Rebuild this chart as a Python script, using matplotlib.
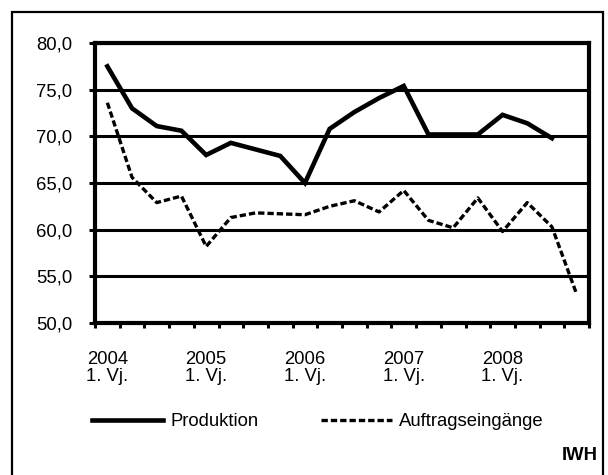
import matplotlib
matplotlib.use("Agg")
import matplotlib.pyplot as plt
from matplotlib.patches import Rectangle

plt.rcParams['font.family'] = ['Liberation Sans', 'DejaVu Sans']

# Quartale 2004 Q1 .. 2008 Q4
years = ['2004', '2005', '2006', '2007', '2008']
produktion = [77.5, 73.0, 71.1, 70.6, 68.0, 69.3, 68.6, 67.9, 65.0, 70.8,
              72.6, 74.1, 75.4, 70.2, 70.2, 70.2, 72.3, 71.4, 69.8]
auftrag = [73.6, 65.6, 62.9, 63.6, 58.2, 61.3, 61.8, 61.7, 61.6, 62.5,
           63.1, 61.9, 64.2, 61.0, 60.2, 63.4, 59.8, 62.9, 60.3, 53.1]
yticks = [50, 55, 60, 65, 70, 75, 80]

FS = 13.3
W, H = 608, 475
fig = plt.figure(figsize=(W / 100, H / 100), dpi=100)
ax = fig.add_axes([95 / W, 1 - 323 / H, (589 - 95) / W, (323 - 43) / H])

ax.plot(range(len(produktion)), produktion, color='black', lw=3.3,
        solid_joinstyle='miter', label='Produktion', zorder=3)
ax.plot(range(len(auftrag)), auftrag, color='black', lw=2.4,
        linestyle=(0, (1.9, 0.9)), label='Auftragseingänge', zorder=3)

ax.set_ylim(50, 80)
ax.set_xlim(-0.5, 19.5)
ax.set_yticks(yticks)
ax.set_yticklabels([f'{v:.1f}'.replace('.', ',') for v in yticks])
ax.yaxis.grid(True, color='black', lw=2.2)
ax.set_axisbelow(True)
ax.tick_params(axis='y', length=4, width=2.2, labelsize=FS, pad=12.5)

ax.set_xticks([0, 4, 8, 12, 16])
ax.set_xticklabels([y + '\n1. Vj.' for y in years], linespacing=1.05)
ax.set_xticks([k - 0.5 for k in range(21)], minor=True)
ax.tick_params(axis='x', which='major', length=0, labelsize=FS, pad=20)
ax.tick_params(axis='x', which='minor', length=3.5, width=2.2)

for s in ax.spines.values():
    s.set_linewidth(3)

ax.legend(loc='center left', bbox_to_anchor=(92 / W, 1 - 422 / H),
          bbox_transform=fig.transFigure, ncol=2, frameon=False,
          fontsize=FS, handlelength=3.85, handletextpad=0.38,
          columnspacing=3.4, borderpad=0, borderaxespad=0)

fig.text(598 / W, 1 - 456 / H, 'IWH', ha='right', va='center',
         fontsize=FS, fontweight='bold')

# Rahmen
fig.add_artist(Rectangle((12 / W, -0.1), (603 - 12) / W, 1.1 - 12 / H,
                         transform=fig.transFigure, fill=False,
                         edgecolor='black', lw=1.6))

fig.savefig('out.png', dpi=100)
